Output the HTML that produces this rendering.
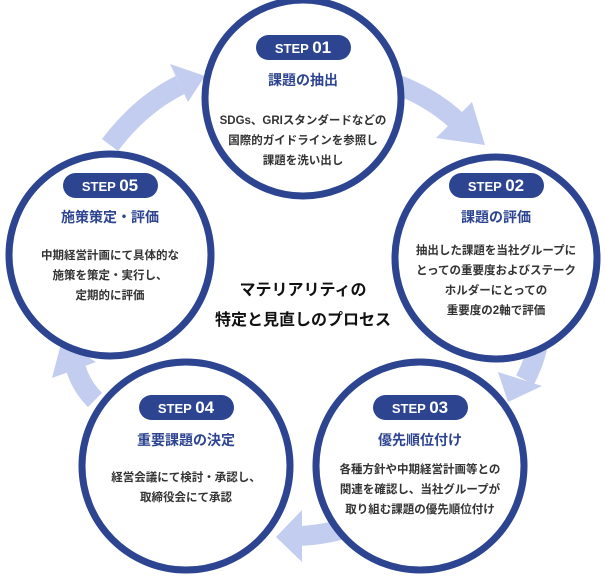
<!DOCTYPE html>
<html><head><meta charset="utf-8"><style>
body{margin:0;background:#fff;}
svg text{font-family:"Liberation Sans","Noto Sans CJK JP",sans-serif;font-weight:bold;}
.b{fill:#fff;font-size:15px;}
.t{fill:#2d4491;font-size:14px;}
.d{fill:#333;font-size:11.5px;}
</style></head><body>
<svg width="606" height="576" viewBox="0 0 606 576" xmlns="http://www.w3.org/2000/svg">
<g fill="none" stroke="#c3cdef" stroke-width="20">
<path d="M385 80 Q430 95 458 122"/>
<path d="M540 330 Q538 355 525 380"/>
<path d="M340 530 Q320 535 300 536"/>
<path d="M95 400 Q80 385 75 365"/>
<path d="M110 145 Q140 105 180 85"/>
</g>
<g fill="#c3cdef">
<polygon points="436,138 472,102 485,145"/>
<polygon points="498,372 542,386 508,402"/>
<polygon points="302,510 302,562 276,537"/>
<polygon points="52,378 96,362 62,340"/>
<polygon points="170,64 188,102 205,76"/>
</g>
<g fill="#fff" stroke="#2d4491" stroke-width="7">
<circle cx="303" cy="98" r="98"/>
<circle cx="496" cy="258" r="101"/>
<circle cx="420" cy="466" r="104"/>
<circle cx="186" cy="466" r="104"/>
<circle cx="110" cy="255" r="101"/>
</g>
<g fill="#2d4491">
<rect x="256" y="35" width="95" height="25" rx="12.5"/>
<rect x="449" y="173" width="95" height="25" rx="12.5"/>
<rect x="373" y="395" width="95" height="25" rx="12.5"/>
<rect x="139" y="395" width="95" height="25" rx="12.5"/>
<rect x="63" y="173" width="95" height="25" rx="12.5"/>
</g>
<g text-anchor="middle">
<text class="b" x="303" y="53"><tspan font-size="13">STEP </tspan><tspan font-size="17"> 01</tspan></text>
<text class="t" x="303" y="85">課題の抽出</text>
<text class="d" x="303" y="124">SDGs、GRIスタンダードなどの</text>
<text class="d" x="303" y="144">国際的ガイドラインを参照し</text>
<text class="d" x="303" y="164">課題を洗い出し</text>

<text class="b" x="496" y="191"><tspan font-size="13">STEP </tspan><tspan font-size="17"> 02</tspan></text>
<text class="t" x="496" y="222">課題の評価</text>
<text class="d" x="496" y="254">抽出した課題を当社グループに</text>
<text class="d" x="496" y="274">とっての重要度およびステーク</text>
<text class="d" x="496" y="294">ホルダーにとっての</text>
<text class="d" x="496" y="314">重要度の2軸で評価</text>

<text class="b" x="420" y="413"><tspan font-size="13">STEP </tspan><tspan font-size="17"> 03</tspan></text>
<text class="t" x="420" y="445">優先順位付け</text>
<text class="d" x="420" y="473">各種方針や中期経営計画等との</text>
<text class="d" x="420" y="493">関連を確認し、当社グループが</text>
<text class="d" x="420" y="513">取り組む課題の優先順位付け</text>

<text class="b" x="186" y="413"><tspan font-size="13">STEP </tspan><tspan font-size="17"> 04</tspan></text>
<text class="t" x="186" y="445">重要課題の決定</text>
<text class="d" x="186" y="481">経営会議にて検討・承認し、</text>
<text class="d" x="186" y="501">取締役会にて承認</text>

<text class="b" x="110" y="191"><tspan font-size="13">STEP </tspan><tspan font-size="17"> 05</tspan></text>
<text class="t" x="110" y="222">施策策定・評価</text>
<text class="d" x="110" y="259">中期経営計画にて具体的な</text>
<text class="d" x="110" y="279">施策を策定・実行し、</text>
<text class="d" x="110" y="299">定期的に評価</text>

<text x="303" y="295" font-size="16" fill="#111">マテリアリティの</text>
<text x="303" y="325" font-size="16" fill="#111">特定と見直しのプロセス</text>
</g>
</svg>
</body></html>
